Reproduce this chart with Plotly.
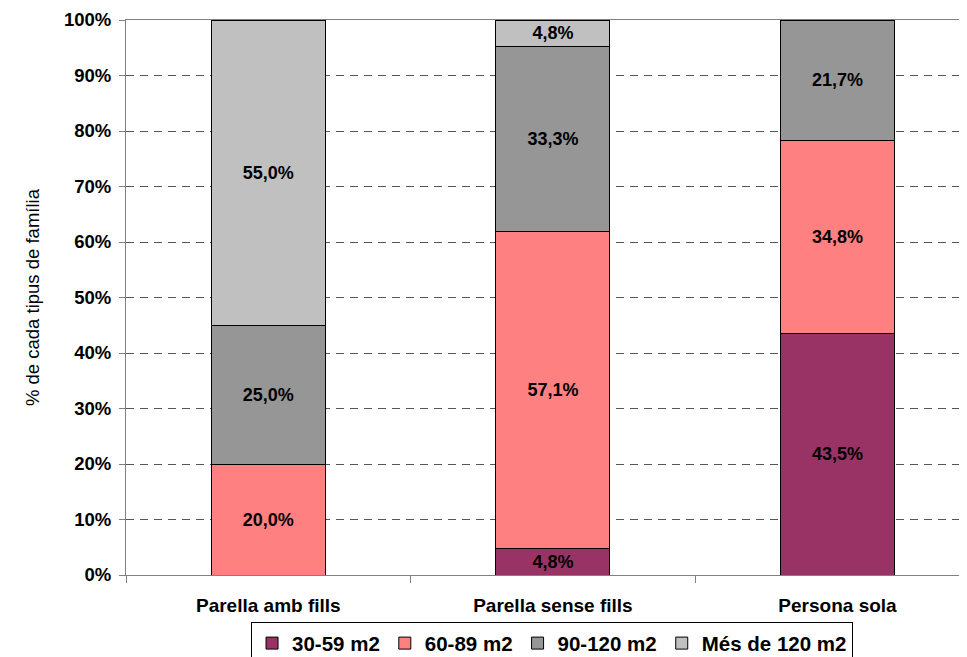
import plotly.graph_objects as go

categories = ["Parella amb fills", "Parella sense fills", "Persona sola"]
series_names = ["30-59 m2", "60-89 m2", "90-120 m2", "Més de 120 m2"]
v_30_59 = [0.0, 4.8, 43.5]
v_60_89 = [20.0, 57.1, 34.8]
v_90_120 = [25.0, 33.3, 21.7]
v_mes_120 = [55.0, 4.8, 0.0]
series_values = [v_30_59, v_60_89, v_90_120, v_mes_120]
colors = ["#993366", "#FF8080", "#969696", "#C0C0C0"]
y_tickvals = list(range(0, 101, 10))
y_ticktext = [f"{v}%" for v in y_tickvals]

FONT = "Liberation Sans, Arial, sans-serif"

def fmt(v):
    return (f"{v:.1f}%".replace(".", ",")) if v > 0 else ""

fig = go.Figure()
for name, vals, col in zip(series_names, series_values, colors):
    fig.add_trace(go.Bar(
        x=categories, y=vals, name=name,
        marker=dict(color=col, line=dict(color="black", width=1)),
        width=0.4,
        text=[fmt(v) for v in vals],
        textposition="inside", insidetextanchor="middle",
        textfont=dict(family=FONT, size=18, color="black", weight="bold"),
        hoverinfo="skip",
    ))

fig.update_layout(
    barmode="stack",
    width=959, height=649,
    margin=dict(l=118, r=0, t=12, b=82),
    paper_bgcolor="white", plot_bgcolor="white",
    font=dict(family=FONT, color="black"),
    uniformtext=dict(minsize=17, mode="show"),
    showlegend=True,
    legend=dict(
        orientation="h", xref="container", yref="container",
        x=0.5673, xanchor="center", y=0.0535, yanchor="top",
        bordercolor="black", borderwidth=1, bgcolor="white",
        font=dict(family=FONT, size=20.5, color="black", weight="bold"),
        traceorder="normal", itemwidth=30,
    ),
    annotations=[dict(
        text="% de cada tipus de família", xref="paper", yref="paper",
        x=-0.126, y=0.5, textangle=-90, showarrow=False,
        font=dict(family=FONT, size=18.5, color="black"),
    )],
)

fig.update_xaxes(
    type="category", range=[-0.5, 2.455],
    showline=True, linecolor="#808080", linewidth=1, mirror=True,
    ticks="outside", tickson="boundaries", ticklen=7, tickcolor="#808080",
    tickfont=dict(family=FONT, size=19, color="black", weight="bold"),
    ticklabelstandoff=13,
    showgrid=False, fixedrange=True,
)
fig.update_yaxes(
    range=[0, 100], tickvals=y_tickvals, ticktext=y_ticktext,
    showline=True, linecolor="#808080", linewidth=1, mirror=True,
    ticks="outside", ticklen=6, tickcolor="#808080",
    tickfont=dict(family=FONT, size=18.5, color="black", weight="bold"),
    ticklabelstandoff=4,
    showgrid=True, gridcolor="#555555", gridwidth=1, griddash="8px,6px",
    zeroline=False, fixedrange=True,
)

fig.write_html("out.html")
